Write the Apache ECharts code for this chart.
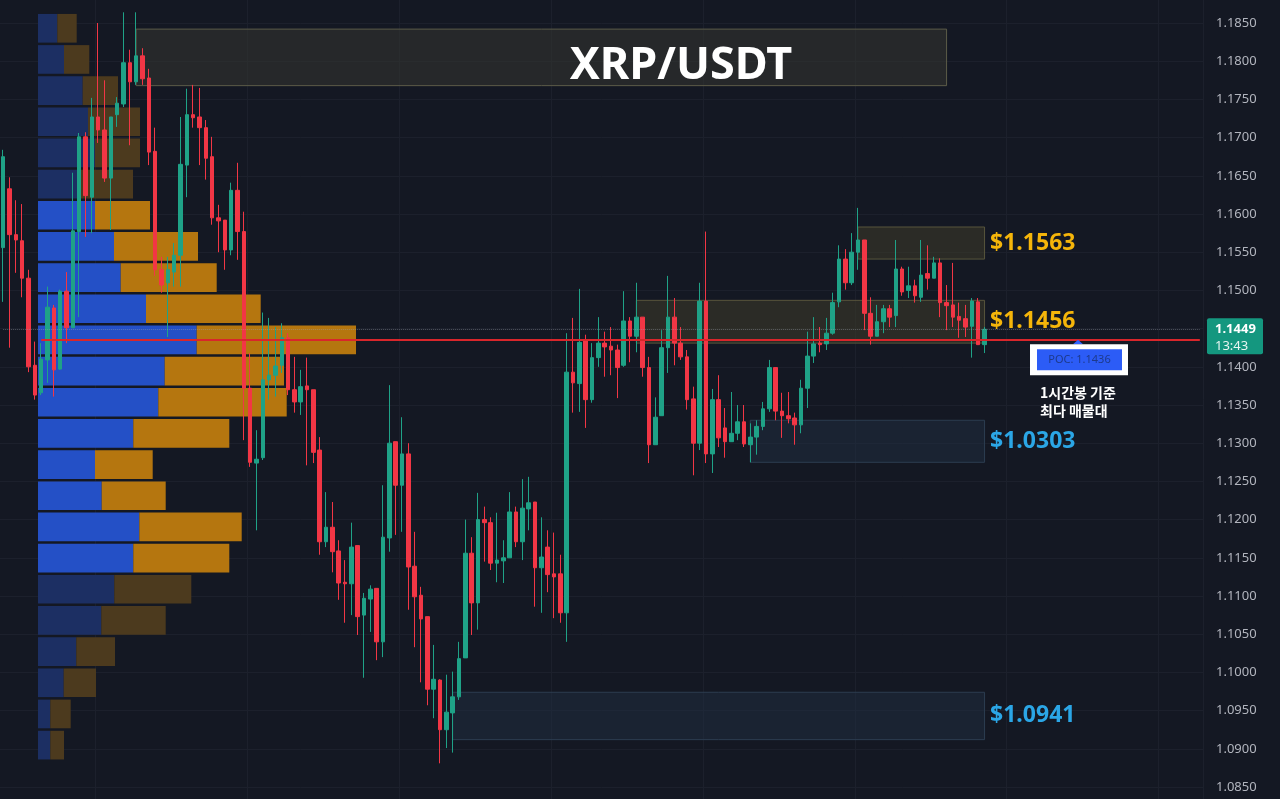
<!DOCTYPE html>
<html>
<head>
<meta charset="utf-8">
<script src="https://cdn.jsdelivr.net/npm/echarts@6/dist/echarts.min.js"></script>
<style>
  html, body { margin: 0; padding: 0; background: #141823; }
  #chart { width: 1280px; height: 799px; }
</style>
</head>
<body>
<div id="chart"></div>
<script>
// 1h candles, XRP/USDT : [open, close, low, high]
const ohlc = [
  [1.1556,1.1675,1.1485,1.1684],[1.1633,1.1573,1.1425,1.1648],[1.1573,1.1566,1.1523,1.1618],[1.1565,1.1516,1.1491,1.1613],
  [1.1516,1.1400,1.1393,1.1527],[1.1402,1.1363,1.1357,1.1433],[1.1366,1.1410,1.1363,1.1431],[1.1409,1.1478,1.1379,1.1505],
  [1.1477,1.1396,1.1361,1.1481],[1.1397,1.1499,1.1396,1.1501],[1.1499,1.1451,1.1431,1.1524],[1.1451,1.1578,1.1451,1.1654],
  [1.1577,1.1701,1.1465,1.1706],[1.1701,1.1624,1.1570,1.1707],[1.1622,1.1727,1.1575,1.1752],[1.1727,1.1710,1.1693,1.1850],
  [1.1710,1.1647,1.1642,1.1775],[1.1647,1.1727,1.1579,1.1727],[1.1730,1.1745,1.1714,1.1753],[1.1744,1.1798,1.1740,1.1864],
  [1.1798,1.1773,1.1690,1.1815],[1.1773,1.1807,1.1769,1.1864],[1.1807,1.1777,1.1769,1.1817],[1.1778,1.1681,1.1664,1.1790],
  [1.1682,1.1527,1.1519,1.1713],[1.1527,1.1507,1.1497,1.1544],[1.1510,1.1527,1.1439,1.1544],[1.1524,1.1546,1.1505,1.1562],
  [1.1546,1.1665,1.1505,1.1727],[1.1664,1.1730,1.1622,1.1764],[1.1730,1.1726,1.1713,1.1769],[1.1727,1.1713,1.1664,1.1765],
  [1.1713,1.1673,1.1645,1.1723],[1.1675,1.1595,1.1586,1.1701],[1.1595,1.1591,1.1550,1.1612],[1.1592,1.1553,1.1527,1.1592],
  [1.1553,1.1631,1.1546,1.1641],[1.1631,1.1577,1.1540,1.1667],[1.1577,1.1372,1.1304,1.1603],[1.1372,1.1275,1.1269,1.1418],
  [1.1274,1.1279,1.1186,1.1317],[1.1281,1.1383,1.1278,1.1471],[1.1383,1.1389,1.1357,1.1464],[1.1389,1.1401,1.1361,1.1452],
  [1.1402,1.1438,1.1392,1.1457],[1.1438,1.1370,1.1363,1.1444],[1.1370,1.1354,1.1340,1.1413],[1.1354,1.1374,1.1337,1.1396],
  [1.1375,1.1370,1.1271,1.1412],[1.1370,1.1288,1.1274,1.1370],[1.1291,1.1171,1.1154,1.1308],[1.1171,1.1190,1.1164,1.1236],
  [1.1190,1.1158,1.1131,1.1223],[1.1159,1.1117,1.1095,1.1173],[1.1118,1.1116,1.1065,1.1147],[1.1116,1.1164,1.1075,1.1196],
  [1.1166,1.1073,1.1049,1.1166],[1.1075,1.1097,1.0993,1.1104],[1.1096,1.1109,1.1053,1.1114],[1.1110,1.1040,1.1016,1.1110],
  [1.1040,1.1177,1.1020,1.1245],[1.1176,1.1300,1.1158,1.1376],[1.1302,1.1245,1.1180,1.1302],[1.1245,1.1286,1.1184,1.1334],
  [1.1286,1.1138,1.1082,1.1300],[1.1139,1.1099,1.1033,1.1184],[1.1101,1.1070,1.0987,1.1112],[1.1073,1.0978,1.0957,1.1073],
  [1.0978,1.0991,1.0940,1.1036],[1.0990,1.0925,1.0881,1.0991],[1.0925,1.0948,1.0901,1.0997],[1.0947,1.0968,1.0895,1.1001],
  [1.0968,1.1018,1.0964,1.1040],[1.1019,1.1156,1.1019,1.1200],[1.1156,1.1091,1.1049,1.1177],[1.1091,1.1200,1.1056,1.1235],
  [1.1200,1.1196,1.1145,1.1217],[1.1196,1.1143,1.1134,1.1203],[1.1143,1.1147,1.1118,1.1209],[1.1146,1.1150,1.1117,1.1173],
  [1.1150,1.1210,1.1150,1.1236],[1.1210,1.1171,1.1164,1.1217],[1.1171,1.1215,1.1147,1.1253],[1.1214,1.1222,1.1186,1.1256],
  [1.1223,1.1137,1.1086,1.1223],[1.1137,1.1151,1.1078,1.1203],[1.1164,1.1128,1.1105,1.1186],[1.1129,1.1125,1.1071,1.1183],
  [1.1129,1.1078,1.1065,1.1154],[1.1078,1.1393,1.1040,1.1444],[1.1393,1.1379,1.1340,1.1464],[1.1378,1.1432,1.1341,1.1502],
  [1.1435,1.1357,1.1320,1.1442],[1.1357,1.1412,1.1353,1.1431],[1.1412,1.1431,1.1400,1.1465],[1.1431,1.1426,1.1387,1.1446],
  [1.1427,1.1422,1.1389,1.1452],[1.1422,1.1399,1.1359,1.1429],[1.1402,1.1460,1.1400,1.1499],[1.1460,1.1440,1.1406,1.1465],
  [1.1440,1.1465,1.1419,1.1510],[1.1465,1.1399,1.1387,1.1465],[1.1399,1.1298,1.1274,1.1413],[1.1298,1.1334,1.1298,1.1360],
  [1.1336,1.1425,1.1336,1.1448],[1.1425,1.1465,1.1392,1.1519],[1.1465,1.1431,1.1402,1.1490],[1.1431,1.1413,1.1409,1.1452],
  [1.1413,1.1357,1.1344,1.1422],[1.1358,1.1300,1.1258,1.1374],[1.1300,1.1486,1.1291,1.1510],[1.1486,1.1286,1.1274,1.1577],
  [1.1286,1.1357,1.1261,1.1371],[1.1357,1.1307,1.1295,1.1389],[1.1320,1.1302,1.1281,1.1346],[1.1302,1.1313,1.1302,1.1367],
  [1.1313,1.1328,1.1304,1.1350],[1.1328,1.1299,1.1295,1.1350],[1.1298,1.1308,1.1275,1.1326],[1.1308,1.1322,1.1285,1.1330],
  [1.1322,1.1345,1.1317,1.1354],[1.1345,1.1399,1.1341,1.1409],[1.1399,1.1342,1.1330,1.1399],[1.1342,1.1336,1.1307,1.1366],
  [1.1336,1.1332,1.1326,1.1367],[1.1333,1.1324,1.1298,1.1340],[1.1324,1.1372,1.1313,1.1383],[1.1372,1.1414,1.1346,1.1446],
  [1.1414,1.1430,1.1405,1.1465],[1.1431,1.1429,1.1419,1.1452],[1.1430,1.1444,1.1422,1.1464],[1.1444,1.1484,1.1442,1.1497],
  [1.1485,1.1541,1.1478,1.1559],[1.1541,1.1510,1.1501,1.1554],[1.1510,1.1550,1.1507,1.1575],[1.1550,1.1566,1.1527,1.1608],
  [1.1566,1.1470,1.1448,1.1566],[1.1470,1.1440,1.1429,1.1491],[1.1440,1.1459,1.1440,1.1481],[1.1459,1.1476,1.1444,1.1481],
  [1.1476,1.1465,1.1452,1.1481],[1.1467,1.1528,1.1452,1.1566],[1.1528,1.1498,1.1493,1.1531],[1.1500,1.1506,1.1490,1.1531],
  [1.1506,1.1493,1.1484,1.1514],[1.1491,1.1520,1.1485,1.1566],[1.1522,1.1516,1.1501,1.1559],[1.1516,1.1536,1.1516,1.1544],
  [1.1536,1.1484,1.1465,1.1542],[1.1484,1.1480,1.1448,1.1507],[1.1481,1.1465,1.1452,1.1536],[1.1466,1.1461,1.1438,1.1484],
  [1.1463,1.1452,1.1439,1.1481],[1.1453,1.1486,1.1412,1.1490],[1.1485,1.1429,1.1429,1.1490],[1.1429,1.1449,1.1418,1.1452]
];

// volume profile rows (lowest price first)
const profileRows = ['1.0884','1.0925','1.0966','1.1007','1.1048','1.1088','1.1129','1.1170','1.1211','1.1252','1.1292','1.1333',
                     '1.1374','1.1415','1.1456','1.1496','1.1537','1.1578','1.1619','1.1660','1.1700','1.1741','1.1782','1.1823'];
const profileBuy  = [12.3, 12.3, 25.7, 38.3, 63.3, 76.3, 95.3, 101.3, 63.7, 57, 95.3, 120.3,
                     126.7, 158.7, 108, 82.7, 76, 57, 42, 57, 50, 44.7, 26, 19.3];
const profileSell = [13.7, 20.4, 32.3, 38.7, 64.4, 77, 96, 102.4, 64, 57.7, 96, 128.4,
                     119.3, 159.3, 114.7, 96, 84, 55, 53, 45, 52, 35.3, 25.3, 19.4];
const valueArea = [6, 17];   // row range inside value area

const pocPrice = 1.1436;
const lastPrice = 1.1449;
const lastTime = '13:43';

// drawn zones: [fromBar, toBar, top, bottom, label, kind]
const zones = [
  [135, 155, 1.1583, 1.1541, '$1.1563', 'gold'],
  [100, 155, 1.1487, 1.1431, '$1.1456', 'gold'],
  [118, 155, 1.1330, 1.1275, '$1.0303', 'blue'],
  [71, 155, 1.0974, 1.0912, '$1.0941', 'blue']
];
const titleBox = [21, 149, 1.1842, 1.1768];

const slots = 190;
const bars = [];
for (let i = 0; i < slots; i++) bars.push('b' + i);

const UP = '#1fa287';
const DOWN = '#f23645';
const GRID_LINE = '#1c202c';

const chart = echarts.init(document.getElementById('chart'));

const zoneStyle = {
  gold: { fill: 'rgba(62, 60, 42, 0.55)', border: '#58553c', text: '#f5b50a' },
  blue: { fill: 'rgba(34, 48, 68, 0.45)', border: '#2c3d50', text: '#2ba6e6' }
};

const areaData = zones.map(function (z) {
  const s = zoneStyle[z[5]];
  return [
    {
      coord: [z[0], z[2]],
      itemStyle: { color: s.fill, borderColor: s.border, borderWidth: 1 },
      label: {
        show: true, position: 'right', distance: 5, formatter: z[4],
        color: s.text, fontSize: 23, fontWeight: 'bold', fontFamily: 'Noto Sans'
      }
    },
    { coord: [z[1], z[3]] }
  ];
});
areaData.push([
  {
    coord: [titleBox[0], titleBox[2]],
    itemStyle: { color: 'rgba(52, 54, 50, 0.55)', borderColor: '#5c5b48', borderWidth: 1 },
    label: { show: false }
  },
  { coord: [titleBox[1], titleBox[3]] }
]);

function profileItems(values, bright, dark) {
  return values.map(function (v, i) {
    const inVA = i >= valueArea[0] && i <= valueArea[1];
    return { value: v, itemStyle: { color: inVA ? bright : dark } };
  });
}

const option = {
  backgroundColor: '#141823',
  animation: false,
  grid: [
    { left: -3.5, right: 77, top: 0, bottom: 0 },
    { left: -3.5, right: 77, top: 23, bottom: 12 },
    { left: 38, right: 77, top: 12.7, bottom: 38.3 }
  ],
  xAxis: [
    {
      gridIndex: 0, type: 'category', data: bars, boundaryGap: true,
      axisLine: { show: false }, axisTick: { show: false }, axisLabel: { show: false },
      splitLine: {
        show: true,
        interval: function (index) { return index % 24 === 15; },
        lineStyle: { color: GRID_LINE, width: 1 }
      }
    },
    { gridIndex: 1, type: 'value', min: 0, max: 1, show: false },
    { gridIndex: 2, type: 'value', min: 0, max: 1165, show: false }
  ],
  yAxis: [
    { gridIndex: 0, type: 'value', min: 1.08343, max: 1.18801, show: false },
    {
      gridIndex: 1, type: 'value', position: 'right', min: 1.085, max: 1.185, interval: 0.005,
      axisLine: { show: false }, axisTick: { show: false },
      axisLabel: {
        formatter: function (v) { return v.toFixed(4); },
        color: '#b2b5be', fontSize: 13, fontFamily: 'Noto Sans', margin: 13
      },
      splitLine: { lineStyle: { color: GRID_LINE, width: 1 } }
    },
    { gridIndex: 2, type: 'category', data: profileRows, show: false }
  ],
  series: [
    {
      name: 'Buy volume', type: 'bar', xAxisIndex: 2, yAxisIndex: 2, stack: 'vp',
      barCategoryGap: '8%', silent: true, z: 1,
      data: profileItems(profileBuy, '#2450c6', '#1c2f63')
    },
    {
      name: 'Sell volume', type: 'bar', xAxisIndex: 2, yAxisIndex: 2, stack: 'vp',
      barCategoryGap: '8%', silent: true, z: 1,
      data: profileItems(profileSell, '#b5760f', '#4c3a1e')
    },
    {
      name: 'XRP/USDT', type: 'candlestick', xAxisIndex: 0, yAxisIndex: 0,
      data: ohlc, barWidth: 4, z: 5,
      itemStyle: { color: UP, color0: DOWN, borderColor: UP, borderColor0: DOWN, borderWidth: 1 },
      markArea: { silent: true, z: 2, data: areaData },
      markLine: {
        silent: true, symbol: 'none', z: 10,
        label: { show: false },
        data: [
          [
            { coord: [0, lastPrice], lineStyle: { type: 'dotted', color: 'rgba(160,165,175,0.45)', width: 1 } },
            { coord: [189, lastPrice] }
          ],
          [
            { coord: [6, pocPrice], lineStyle: { type: 'solid', color: '#d9262b', width: 2 } },
            { coord: [189, pocPrice] }
          ]
        ]
      }
    }
  ]
};

chart.setOption(option);

// overlay labels placed on the price scale
const lastY = chart.convertToPixel({ yAxisIndex: 0 }, lastPrice);
const pocY = chart.convertToPixel({ yAxisIndex: 0 }, pocPrice);

chart.setOption({
  graphic: [
    {
      type: 'text', z: 20,
      style: {
        x: 681, y: 66, text: 'XRP/USDT', fill: '#ffffff', font: 'bold 45px "Noto Sans"',
        textAlign: 'center', textVerticalAlign: 'middle'
      }
    },
    {
      type: 'rect', z: 20, shape: { x: 1207, y: lastY - 11, width: 56, height: 36, r: 2 },
      style: { fill: '#14977f' }
    },
    {
      type: 'text', z: 21,
      style: { x: 1215, y: lastY, text: lastPrice.toFixed(4), fill: '#ffffff', font: 'bold 13px "Noto Sans"', textVerticalAlign: 'middle' }
    },
    {
      type: 'text', z: 21,
      style: { x: 1215, y: lastY + 17, text: lastTime, fill: '#e8f5f1', font: '13px "Noto Sans"', textVerticalAlign: 'middle' }
    },
    {
      type: 'polygon', z: 20,
      shape: { points: [[1073, pocY + 5], [1078, pocY + 0.5], [1083, pocY + 5]] },
      style: { fill: '#2f62ff' }
    },
    {
      type: 'rect', z: 20, shape: { x: 1030, y: pocY + 5, width: 98, height: 31 },
      style: { fill: '#ffffff' }
    },
    {
      type: 'rect', z: 21, shape: { x: 1037, y: pocY + 10, width: 85, height: 21 },
      style: { fill: '#2c5cf6' }
    },
    {
      type: 'text', z: 22,
      style: { x: 1079.5, y: pocY + 20.5, text: 'POC: ' + pocPrice.toFixed(4), fill: '#1d3a8c', font: '11px "Noto Sans"', textAlign: 'center', textVerticalAlign: 'middle' }
    },
    {
      type: 'text', z: 22,
      style: { x: 1040, y: pocY + 53, text: '1시간봉 기준', fill: '#ffffff', font: 'bold 14px "Noto Sans CJK KR"', textVerticalAlign: 'middle' }
    },
    {
      type: 'text', z: 22,
      style: { x: 1040, y: pocY + 71, text: '최다 매물대', fill: '#ffffff', font: 'bold 14px "Noto Sans CJK KR"', textVerticalAlign: 'middle' }
    }
  ]
});
</script>
</body>
</html>
